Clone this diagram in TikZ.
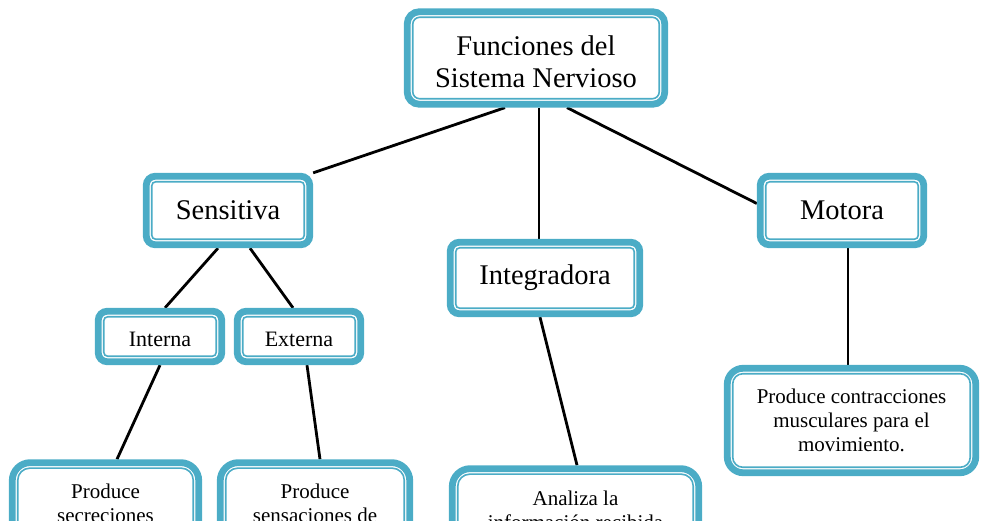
\documentclass[tikz,border=0pt]{standalone}
\usepackage{fontspec}
\setmainfont{Liberation Serif}
\usetikzlibrary{backgrounds}
\definecolor{aqua}{HTML}{4BACC6}
\newcommand{\innerframe}[1]{\draw[aqua, line width=1.6pt, rounded corners=#1]
  ([shift={(5.5pt,5.5pt)}]path picture bounding box.south west) rectangle
  ([shift={(-5.5pt,-5.5pt)}]path picture bounding box.north east);}
\begin{document}
\begin{tikzpicture}[x=1pt,y=-1pt,
    box/.style 2 args={draw=aqua, line width=6.8pt, fill=white, inner sep=0pt, align=center,
      rounded corners=#1, path picture={\innerframe{#2}}},
    big/.style={font=\fontsize{28.5}{32}\selectfont},
    mid/.style={font=\fontsize{22}{26}\selectfont},
    small/.style={font=\fontsize{21}{24}\selectfont},
    link/.style={line width=2.8pt, black}
]
\useasboundingbox (0,0) rectangle (990,520);
\clip (0,0) rectangle (990,520);
\node[box={12pt}{7pt}, big, minimum width=257.5pt, minimum height=92.5pt] (fun) at (536,58) {\rule{0pt}{27.5pt}Funciones del\\Sistema Nervioso};
\node[box={9pt}{4pt}, big, minimum width=163.5pt, minimum height=68.5pt] (sens) at (228,210.5) {Sensitiva};
\node[box={9pt}{4pt}, big, minimum width=163.5pt, minimum height=68.5pt] (mot) at (842,210.5) {Motora};
\node[box={9pt}{4pt}, big, minimum width=189.5pt, minimum height=71.5pt] (integ) at (545,278) {Integradora};
\node[box={9pt}{4pt}, mid, minimum width=123.5pt, minimum height=50.5pt] (inter) at (160,336.5) {\rule{0pt}{21pt}Interna};
\node[box={9pt}{4pt}, mid, minimum width=123.5pt, minimum height=50.5pt] (exter) at (299,336.5) {\rule{0pt}{21pt}Externa};
\node[box={16pt}{10pt}, small, minimum width=248.5pt, minimum height=104.5pt] (contr) at (851.5,420.5) {Produce contracciones\\musculares para el\\movimiento.};
\node[box={18pt}{12pt}, small, anchor=north, minimum width=186.5pt, minimum height=81pt] (secr) at (105.5,459.25) {Produce\\secreciones};
\node[box={18pt}{12pt}, small, anchor=north, minimum width=189.5pt, minimum height=81pt] (sensa) at (315,459.25) {Produce\\sensaciones de};
\node[box={18pt}{12pt}, small, anchor=north, minimum width=246.5pt, minimum height=84pt] (anal) at (575.5,465.25) {Analiza la\\información recibida};
\begin{scope}[on background layer]
\draw[link] ([xshift=-31pt]fun.south) -- (sens.north east);
\draw[link] ([xshift=3pt]fun.south) -- ([xshift=-6pt]integ.north);
\draw[link] ([xshift=31pt]fun.south) -- ([yshift=7pt]mot.west);
\draw[link] ([xshift=-10pt]sens.south) -- ([xshift=5pt]inter.north);
\draw[link] ([xshift=22pt]sens.south) -- ([xshift=-6pt]exter.north);
\draw[link] (inter.south) -- ([xshift=11.5pt]secr.north);
\draw[link] ([xshift=8pt]exter.south) -- ([xshift=5pt]sensa.north);
\draw[link] ([xshift=-5pt]integ.south) -- ([xshift=1.5pt]anal.north);
\draw[link] ([xshift=6pt]mot.south) -- ([xshift=-3.5pt]contr.north);
\end{scope}
\end{tikzpicture}
\end{document}
